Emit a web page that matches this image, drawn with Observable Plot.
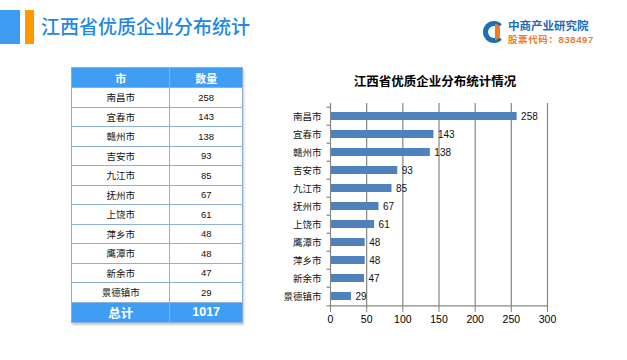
<!DOCTYPE html>
<html>
<head>
<meta charset="utf-8">
<script src="https://cdn.jsdelivr.net/npm/d3@7"></script>
<script src="https://cdn.jsdelivr.net/npm/@observablehq/plot@0.6"></script>
<style>
  html, body { margin: 0; padding: 0; background: #fff; }
  body { width: 627px; height: 360px; position: relative; overflow: hidden;
         font-family: "Liberation Sans", "Noto Sans CJK SC", sans-serif; }
  .abs { position: absolute; }
  #bar1 { left: 0; top: 10px; width: 20px; height: 34px; background: #3d9cf2; }
  #bar2 { left: 25px; top: 10px; width: 9px; height: 34px; background: #ff9900; }
  #title { left: 41px; top: 13px; font-size: 19px; line-height: 26px; color: #2288e6;
           font-family: "Noto Sans CJK SC", sans-serif; font-weight: 500; white-space: nowrap; }
  #logo-icon { left: 483px; top: 21px; width: 22px; height: 22px; }
  #logo1 { left: 508px; top: 20px; font-size: 11.5px; line-height: 12px; font-weight: bold; color: #1f6db8;
           font-family: "Liberation Sans", "Noto Sans CJK SC", sans-serif; white-space: nowrap; }
  #logo2 { left: 508px; top: 33.5px; font-size: 9.5px; line-height: 11px; font-weight: bold; color: #f07a28;
           font-family: "Liberation Sans", "Noto Sans CJK SC", sans-serif; white-space: nowrap; letter-spacing: 0.6px; }
  #tbl { left: 71px; top: 67px; border-collapse: collapse; width: 172px; box-shadow: 1px 2px 2px #c8c8c8; }
  #tbl td, #tbl th { border: 1.5px solid #8eaedb; text-align: center; padding: 0; }
  #tbl th { background: #3f9ef4; color: #fff; font-size: 11px; font-weight: bold; height: 19px;
            font-family: "Noto Sans CJK SC", sans-serif; }
  #tbl td { height: 18.5px; font-size: 9.5px; color: #111; background: #fff; }
  #tbl tr.total td { background: #3f9ef4; color: #fff; font-weight: bold; font-size: 12.5px; height: 17px; }
  #ctitle { left: 270px; width: 330px; top: 72px; text-align: center; font-size: 12.5px; font-weight: bold;
            color: #000; font-family: "Noto Sans CJK SC", sans-serif; line-height: 18px; }
  #chart { left: 270px; top: 95px; }
</style>
</head>
<body>
<div id="bar1" class="abs"></div>
<div id="bar2" class="abs"></div>
<div id="title" class="abs">江西省优质企业分布统计</div>
<div id="logo-icon" class="abs">
  <div style="position:absolute;left:0;top:0;width:12px;height:12px;border-radius:50%;border:5px solid #1f6db8;border-right-color:transparent;"></div>
  <div style="position:absolute;left:12px;top:3px;width:5px;height:16px;background:#f07a28;border-radius:0 8px 8px 0;"></div>
</div>
<div id="logo1" class="abs">中商产业研究院</div>
<div id="logo2" class="abs">股票代码：838497</div>
<table id="tbl" class="abs"></table>
<div id="ctitle" class="abs">江西省优质企业分布统计情况</div>
<div id="chart" class="abs"></div>
<script>
// Chart data (order as in the bar chart)
const cities = ["南昌市","宜春市","赣州市","吉安市","九江市","抚州市","上饶市","鹰潭市","萍乡市","新余市","景德镇市"];
const values = [258,143,138,93,85,67,61,48,48,47,29];
// Table data (order as in the table)
const tableCities = ["南昌市","宜春市","赣州市","吉安市","九江市","抚州市","上饶市","萍乡市","鹰潭市","新余市","景德镇市"];
const tableValues = [258,143,138,93,85,67,61,48,48,47,29];
const tableHeader = ["市","数量"];
const totalLabel = "总计";
const xTicks = [0,50,100,150,200,250,300];

// Table
const tbl = document.getElementById("tbl");
const hr = tbl.insertRow();
tableHeader.forEach(h => { const th = document.createElement("th"); th.textContent = h; hr.appendChild(th); });
tableCities.forEach((c, i) => {
  const r = tbl.insertRow();
  r.insertCell().textContent = c;
  r.insertCell().textContent = tableValues[i];
});
const tr = tbl.insertRow(); tr.className = "total";
tr.insertCell().textContent = totalLabel;
tr.insertCell().textContent = d3.sum(tableValues);

// Chart
const data = cities.map((c, i) => ({city: c, value: values[i]}));
const W = 300, H = 240, mT = 8, mB = 27, mL = 60, mR = 23;
const step = (H - mT - mB) / cities.length;
const grey = "#878787";
const chart = Plot.plot({
  width: W, height: H,
  marginTop: mT, marginBottom: mB, marginLeft: mL, marginRight: mR,
  style: {fontFamily: '"Liberation Sans","Noto Sans CJK SC",sans-serif', background: "transparent", color: "#000"},
  x: {domain: [0, 300]},
  y: {domain: cities, paddingInner: 0.58, paddingOuter: 0.29},
  marks: [
    Plot.gridX(xTicks.slice(1), {stroke: grey, strokeOpacity: 1, strokeWidth: 1.2}),
    Plot.barX(data, {x: "value", y: "city", fill: "#4f81bd"}),
    Plot.ruleX([0], {stroke: grey, strokeWidth: 1.2}),
    Plot.ruleY([cities[cities.length - 1]], {x1: 0, x2: 300, dy: step / 2, stroke: grey, strokeWidth: 1.2}),
    Plot.ruleY(cities, {x1: 0, x2: 0, insetLeft: -3.5, dy: -step / 2, stroke: grey, strokeWidth: 1.2}),
    Plot.ruleY([cities[cities.length - 1]], {x1: 0, x2: 0, insetLeft: -3.5, dy: step / 2, stroke: grey, strokeWidth: 1.2}),
    Plot.text(data, {x: "value", y: "city", text: d => String(d.value), dx: 4, textAnchor: "start", fontSize: 10, fill: "#111"}),
    Plot.axisX({ticks: xTicks, tickSize: 4, tickPadding: 3, fontSize: 10.5, stroke: grey, fill: "#000", label: null}),
    Plot.axisY({tickSize: 0, tickPadding: 9, fontSize: 9.5, fill: "#111", label: null})
  ]
});
document.getElementById("chart").appendChild(chart);
</script>
</body>
</html>
